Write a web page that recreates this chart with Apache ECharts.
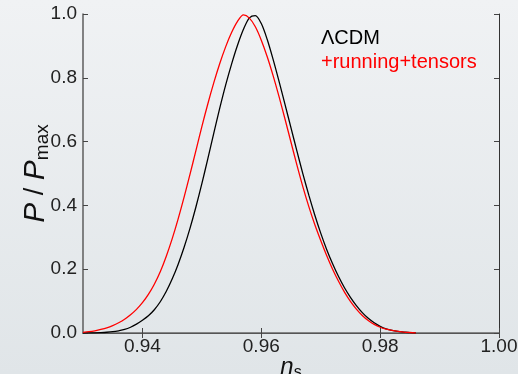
<!DOCTYPE html>
<html>
<head>
<meta charset="utf-8">
<script src="https://cdn.jsdelivr.net/npm/echarts@6/dist/echarts.min.js"></script>
<style>
  html, body { margin: 0; padding: 0; }
  body { background: linear-gradient(to bottom, #f0f2f4, #e0e5e8); }
  #chart { width: 518px; height: 374px; }
</style>
</head>
<body>
<div id="chart"></div>
<script>
// n_s grid
const nsGrid = [
  0.930, 0.931, 0.932, 0.933, 0.934, 0.935, 0.936, 0.937, 0.938, 0.939,
  0.940, 0.941, 0.942, 0.943, 0.944, 0.945, 0.946, 0.947, 0.948, 0.949,
  0.950, 0.951, 0.952, 0.953, 0.954, 0.955, 0.956, 0.957, 0.958, 0.959,
  0.960, 0.961, 0.962, 0.963, 0.964, 0.965, 0.966, 0.967, 0.968, 0.969,
  0.970, 0.971, 0.972, 0.973, 0.974, 0.975, 0.976, 0.977, 0.978, 0.979,
  0.980, 0.981, 0.982, 0.983, 0.984, 0.985, 0.986
];

// P/Pmax, LCDM (black)
const lcdmPost = [
  0.000, 0.0003, 0.0007, 0.0013, 0.0023, 0.004, 0.007, 0.011, 0.018, 0.028,
  0.040, 0.054, 0.073, 0.098, 0.130, 0.169, 0.215, 0.268, 0.328, 0.395,
  0.468, 0.546, 0.626, 0.704, 0.777, 0.843, 0.902, 0.952, 0.988, 0.995,
  0.970, 0.920, 0.857, 0.788, 0.716, 0.643, 0.570, 0.499, 0.432, 0.370,
  0.313, 0.262, 0.217, 0.177, 0.142, 0.112, 0.086, 0.064, 0.046, 0.032,
  0.021, 0.013, 0.008, 0.005, 0.003, 0.001, 0.000
];

// P/Pmax, +running+tensors (red)
const runTensPost = [
  0.002, 0.004, 0.007, 0.011, 0.016, 0.023, 0.032, 0.043, 0.057, 0.074,
  0.095, 0.121, 0.153, 0.192, 0.240, 0.295, 0.357, 0.425, 0.497, 0.572,
  0.647, 0.718, 0.784, 0.844, 0.897, 0.942, 0.977, 0.997, 0.987, 0.960,
  0.918, 0.866, 0.806, 0.740, 0.670, 0.598, 0.526, 0.458, 0.396, 0.340,
  0.290, 0.243, 0.200, 0.162, 0.128, 0.099, 0.075, 0.055, 0.039, 0.027,
  0.018, 0.012, 0.008, 0.005, 0.003, 0.0015, 0.000
];

const xTicks = [0.94, 0.96, 0.98, 1.00];

const font = '"Liberation Sans", Arial, sans-serif';

function pairs(ys) {
  return nsGrid.map((x, i) => [x, ys[i]]);
}

const chart = echarts.init(document.getElementById('chart'), null, { renderer: 'canvas' });

chart.setOption({
  backgroundColor: 'transparent',
  animation: false,
  grid: { left: 83, right: 19, top: 14, bottom: 41, outerBoundsMode: 'none', containLabel: false },
  xAxis: [{
    type: 'value',
    min: 0.93,
    max: 1.0,
    name: '{i|n}{s|s}',
    nameLocation: 'middle',
    nameGap: 20,
    nameMoveOverlap: false,
    nameTextStyle: {
      rich: {
        i: { fontFamily: font, fontStyle: 'italic', fontSize: 24, lineHeight: 28, color: '#111' },
        s: { fontFamily: font, fontSize: 16, lineHeight: 15, color: '#111', verticalAlign: 'bottom' }
      }
    },
    axisLine: { lineStyle: { color: '#666', width: 1.6 } },
    axisTick: { inside: true, length: 5, customValues: xTicks, lineStyle: { color: '#444' } },
    axisLabel: {
      customValues: xTicks,
      margin: 4,
      fontFamily: font,
      fontSize: 19,
      color: '#222',
      formatter: v => v.toFixed(2)
    },
    splitLine: { show: false }
  }, {
    type: 'value',
    position: 'top',
    min: 0.93,
    max: 1.0,
    axisLine: { lineStyle: { color: '#555', width: 1 } },
    axisTick: { inside: true, length: 5, customValues: xTicks, lineStyle: { color: '#444' } },
    axisLabel: { show: false },
    splitLine: { show: false }
  }],
  yAxis: [{
    type: 'value',
    min: 0,
    max: 1,
    interval: 0.2,
    name: '{i|P}{n| / }{i|P}{s|max}',
    nameLocation: 'middle',
    nameRotate: 90,
    nameGap: 31,
    nameMoveOverlap: false,
    nameTextStyle: {
      rich: {
        i: { fontFamily: font, fontStyle: 'italic', fontSize: 30, lineHeight: 32, color: '#111' },
        n: { fontFamily: font, fontSize: 27, lineHeight: 32, color: '#111' },
        s: { fontFamily: font, fontSize: 19, lineHeight: 17, color: '#111', verticalAlign: 'bottom' }
      }
    },
    axisLine: { show: true, lineStyle: { color: '#666', width: 1.6 } },
    axisTick: { show: true, inside: true, length: 5, lineStyle: { color: '#444' } },
    axisLabel: {
      margin: 6,
      fontFamily: font,
      fontSize: 19,
      color: '#222',
      formatter: v => v.toFixed(1)
    },
    splitLine: { show: false }
  }, {
    type: 'value',
    position: 'right',
    min: 0,
    max: 1,
    interval: 0.2,
    axisLine: { show: true, lineStyle: { color: '#333', width: 1 } },
    axisTick: { show: true, inside: true, length: 5, lineStyle: { color: '#444' } },
    axisLabel: { show: false },
    splitLine: { show: false }
  }],
  graphic: [{
    type: 'text',
    left: 321,
    top: 28,
    style: { text: 'ΛCDM', fontFamily: font, fontSize: 20, fill: '#000' }
  }, {
    type: 'text',
    left: 321,
    top: 52,
    style: { text: '+running+tensors', fontFamily: font, fontSize: 20, fill: '#ff0000' }
  }],
  series: [{
    name: 'ΛCDM',
    type: 'line',
    data: pairs(lcdmPost),
    smooth: 0.3,
    showSymbol: false,
    lineStyle: { color: '#000', width: 1.3 },
    z: 3
  }, {
    name: '+running+tensors',
    type: 'line',
    data: pairs(runTensPost),
    smooth: 0.3,
    showSymbol: false,
    lineStyle: { color: '#ff0000', width: 1.3 },
    z: 4
  }]
});
</script>
</body>
</html>
